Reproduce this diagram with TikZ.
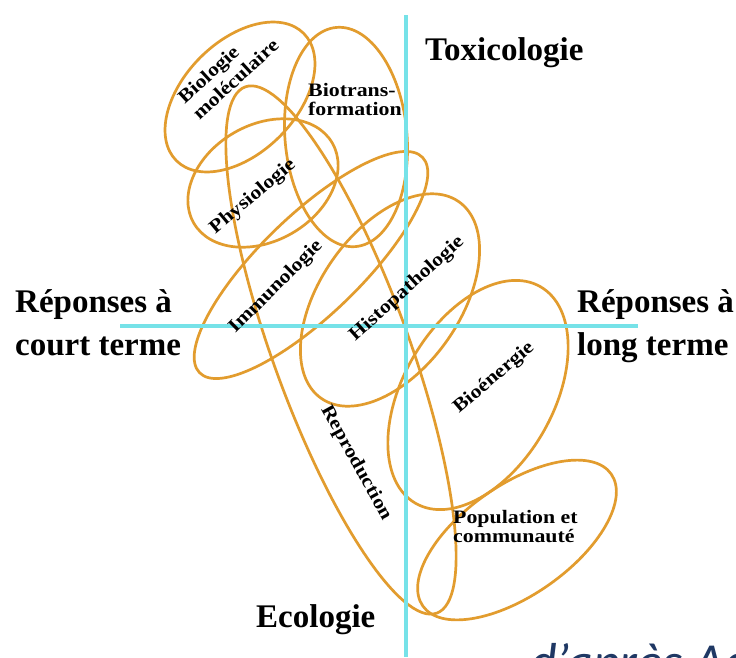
\documentclass[tikz,border=0pt]{standalone}
\usepackage{fontspec}
\setmainfont{Liberation Serif}
\newfontfamily\themefont[FakeStretch=1.15]{Liberation Serif}
\newfontfamily\notefont{Carlito}
\usetikzlibrary{shapes.geometric}
\definecolor{zoneorange}{RGB}{226,156,46}
\definecolor{axiscyan}{RGB}{118,226,232}
\definecolor{notenavy}{RGB}{31,56,100}
\tikzset{
    zone/.style={ellipse,draw=zoneorange,line width=2.7pt,inner sep=0pt},
    theme/.style={font=\themefont\bfseries\fontsize{19}{19}\selectfont,inner sep=0pt,align=left},
    pole/.style={font=\bfseries\fontsize{33}{43}\selectfont,inner sep=0pt,align=left},
    axis/.style={-,draw=axiscyan,line width=4pt},
    note/.style={font=\notefont\itshape\fontsize{52}{52}\selectfont,text=notenavy,inner sep=0pt},
}

\begin{document}
\begin{tikzpicture}[x=1pt,y=-1pt]
    \useasboundingbox (0,0) rectangle (736,657);
    \clip (0,0) rectangle (736,657);
    \fill[white] (0,0) rectangle (736,657);
    % zones
    \node[zone,minimum width=180pt,minimum height=112pt,rotate=45] (biomol) at (240,97) {};
    \node[zone,minimum width=122pt,minimum height=220pt,rotate=5] (biotrans) at (346,137) {};
    \node[zone,minimum width=160pt,minimum height=116pt,rotate=30] (physio) at (263,183) {};
    \node[zone,minimum width=310pt,minimum height=100pt,rotate=44] (immuno) at (311,265) {};
    \node[zone,minimum width=240pt,minimum height=140pt,rotate=55] (histo) at (390,300) {};
    \node[zone,minimum width=560pt,minimum height=136pt,rotate=-70] (repro) at (341,350) {};
    \node[zone,minimum width=250pt,minimum height=150pt,rotate=60] (bioener) at (478,395) {};
    \node[zone,minimum width=230pt,minimum height=110pt,rotate=35] (popul) at (517,540) {};
    % axes
    \coordinate (toxtop) at (406,15);
    \coordinate (ecobot) at (406,657);
    \coordinate (courtend) at (120,326);
    \coordinate (longend) at (638,326);
    \draw[axis] (toxtop) -- (ecobot);
    \draw[axis] (courtend) -- (longend);
    % labels
    \node[pole,anchor=base west] (tox) at (425,60) {Toxicologie};
    \node[pole,anchor=base west] (eco) at (256,627) {Ecologie};
    \node[pole,anchor=west] (court) at (15,323) {Réponses à\\court terme};
    \node[pole,anchor=west] (long) at (577,326) {Réponses à\\long terme};
    \node[theme,font=\themefont\bfseries\fontsize{19}{22}\selectfont,rotate=42.5] (tbiomol) at (228,71) {Biologie\\moléculaire};
    \node[theme,anchor=west] (tbiotrans) at (308,99) {Biotrans-\\formation};
    \node[theme,rotate=40] (tphysio) at (253,197) {Physiologie};
    \node[theme,rotate=45] (timmuno) at (276,287) {Immunologie};
    \node[theme,rotate=42] (thisto) at (407,289) {Histopathologie};
    \node[theme,rotate=-61] (trepro) at (356,463) {Reproduction};
    \node[theme,rotate=40.5] (tbioener) at (494,378) {Bioénergie};
    \node[theme,anchor=west] (tpopul) at (453,527) {Population et\\communauté};
    \node[note,anchor=base west] (source) at (530,679) {d’après Ad};
\end{tikzpicture}
\end{document}
